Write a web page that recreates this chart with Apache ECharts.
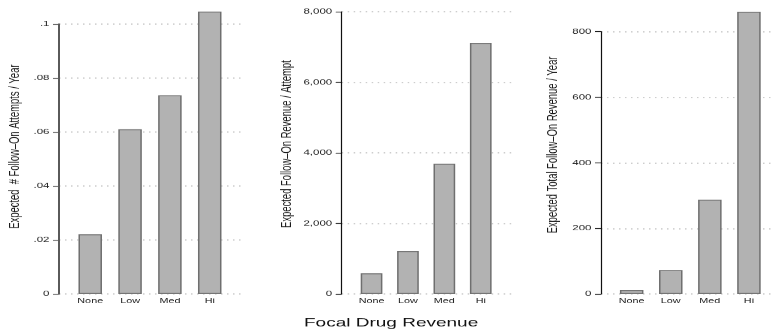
<!DOCTYPE html>
<html>
<head>
<meta charset="utf-8">
<script src="https://cdn.jsdelivr.net/npm/echarts@6/dist/echarts.min.js"></script>
<style>
  html, body { margin: 0; padding: 0; background: #fff; overflow: hidden; }
  #wrap { width: 774px; height: 331px; overflow: hidden; }
  #chart { width: 774px; height: 509px; transform: scaleY(0.65029); transform-origin: 0 0; }
</style>
</head>
<body>
<div id="wrap"><div id="chart"></div></div>
<script>
// ---- data ----
const categories = ['None', 'Low', 'Med', 'Hi'];
const attemptsPerYear = [0.0221, 0.0610, 0.0736, 0.1046];
const revenuePerAttempt = [586, 1218, 3690, 7117];
const totalRevenuePerYear = [12, 73, 288, 861];
const attemptsTicks = [0, 0.02, 0.04, 0.06, 0.08, 0.1];
const revenueTicks = [0, 2000, 4000, 6000, 8000];
const totalTicks = [0, 200, 400, 600, 800];
const axisTitles = [
  'Expected  # Follow\u2013On Attempts / Year',
  'Expected Follow\u2013On Revenue / Attempt',
  'Expected Total Follow\u2013On Revenue / Year'
];
const xTitle = 'Focal Drug Revenue';

// ---- formatting ----
const fmtDecimal = v => v === 0 ? '0' : String(+v.toFixed(3)).replace(/^0/, '');
const fmtComma = v => Math.round(v).toLocaleString('en-US');
const fmtPlain = v => String(Math.round(v));

// ---- layout (in unscaled chart coordinates) ----
const FONT = 'Liberation Sans';
const layouts = [
  { left: 59,    right: 532,   top: 36.9, xMin: 0.216, xMax: 4.81, barWidth: 23.5, nameGap: 37,   namePad: 38, axisColor: '#5a5a5a', axisWidth: 2 },
  { left: 341.7, right: 262.3, top: 18.0, xMin: 0.18,  xMax: 4.85, barWidth: 21.7, nameGap: 47.5, namePad: 27, axisColor: '#111',    axisWidth: 1.2 },
  { left: 601,   right: 2,     top: 48.7, xMin: 0.215, xMax: 4.59, barWidth: 23.5, nameGap: 41,   namePad: 55, axisColor: '#111',    axisWidth: 1.2 }
];
const panelData = [attemptsPerYear, revenuePerAttempt, totalRevenuePerYear];
const panelTicks = [attemptsTicks, revenueTicks, totalTicks];
const panelFmt = [fmtDecimal, fmtComma, fmtPlain];

const grids = [], xAxes = [], yAxes = [], series = [];
layouts.forEach((L, i) => {
  const ticks = panelTicks[i];
  grids.push({ left: L.left, right: L.right, top: L.top, bottom: 56.9, containLabel: false });
  xAxes.push({
    type: 'value', gridIndex: i, min: L.xMin, max: L.xMax,
    axisLine: { show: false }, axisTick: { show: false }, splitLine: { show: false },
    axisLabel: {
      customValues: [1, 2, 3, 4],
      formatter: v => categories[Math.round(v) - 1] || '',
      fontFamily: FONT, fontSize: 10.8, color: '#222', margin: 5
    }
  });
  yAxes.push({
    type: 'value', gridIndex: i,
    min: ticks[0], max: ticks[ticks.length - 1], interval: ticks[1] - ticks[0],
    name: axisTitles[i], nameLocation: 'middle', nameRotate: 90, nameGap: L.nameGap,
    nameTextStyle: { fontFamily: FONT, fontSize: 14.5, color: '#1a1a1a', padding: [0, 0, 0, L.namePad] },
    axisLine: { show: true, lineStyle: { color: L.axisColor, width: L.axisWidth } },
    axisTick: { show: true, length: 6, lineStyle: { color: L.axisColor, width: 1.2 } },
    axisLabel: { formatter: panelFmt[i], fontFamily: FONT, fontSize: 11.5, color: '#222', margin: 9.5 },
    splitLine: { show: true, lineStyle: { color: '#bdbdbd', width: 1.5, type: [1.5, 4.5] } }
  });
  series.push({
    type: 'bar', xAxisIndex: i, yAxisIndex: i,
    data: panelData[i].map((v, k) => [k + 1, v]),
    barWidth: L.barWidth, clip: false,
    itemStyle: { color: '#b2b2b2', borderColor: '#6f6f6f', borderWidth: 1.5 },
    emphasis: { disabled: true }
  });
});

const chart = echarts.init(document.getElementById('chart'), null, { renderer: 'canvas' });
chart.setOption({
  animation: false,
  backgroundColor: '#fff',
  title: {
    text: xTitle, left: 304, top: 486.8, padding: 0,
    textStyle: { fontFamily: FONT, fontSize: 19, fontWeight: 'normal', color: '#111' }
  },
  grid: grids, xAxis: xAxes, yAxis: yAxes, series: series
});
</script>
</body>
</html>
